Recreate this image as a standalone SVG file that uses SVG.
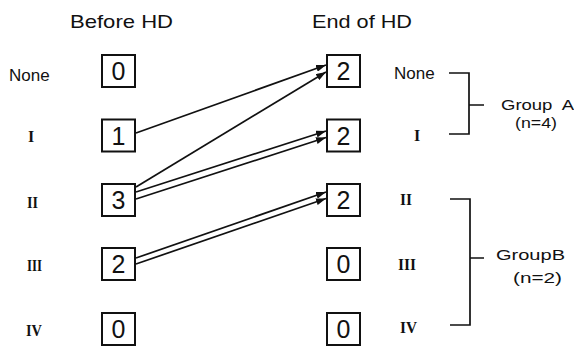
<svg xmlns="http://www.w3.org/2000/svg" width="574" height="346" viewBox="0 0 574 346">
<style>
.t{font-family:"Liberation Sans",Arial,sans-serif;fill:#111}
.title{font-size:19px}
.lab{font-size:17px}
.rom{font-family:"Liberation Serif","Times New Roman",serif;font-weight:bold;font-size:16px;fill:#111}
.dig{font-family:"Liberation Sans",Arial,sans-serif;font-size:25px;fill:#111;text-anchor:middle}
.box{fill:#fff;stroke:#111;stroke-width:2}
.ln{stroke:#111;stroke-width:1.7;fill:none}
.arr{stroke:#111;stroke-width:1.7;fill:none;marker-end:url(#ah)}
.grp{font-size:15px}
</style>
<defs>
<marker id="ah" markerUnits="userSpaceOnUse" markerWidth="10" markerHeight="7" refX="10" refY="3.5" orient="auto">
<path d="M0,0 L10,3.5 L0,7 z" fill="#111"/>
</marker>
</defs>
<rect width="574" height="346" fill="#fff"/>
<text class="t title" x="70" y="28" textLength="103" lengthAdjust="spacingAndGlyphs">Before HD</text>
<text class="t title" x="312" y="28" textLength="100" lengthAdjust="spacingAndGlyphs">End of HD</text>

<g id="left-labels">
<text class="t lab" x="9" y="81">None</text>
<text class="rom" x="28" y="142">I</text>
<text class="rom" x="27" y="208" textLength="11" lengthAdjust="spacingAndGlyphs">II</text>
<text class="rom" x="27" y="271" textLength="15" lengthAdjust="spacingAndGlyphs">III</text>
<text class="rom" x="26" y="336" textLength="16" lengthAdjust="spacingAndGlyphs">IV</text>
</g>

<g id="before-none"><rect class="box" x="102" y="55" width="33" height="32"/><text class="dig" x="118.5" y="80">0</text></g>
<g id="before-I"><rect class="box" x="102" y="119.5" width="33" height="32"/><text class="dig" x="118.5" y="144.5">1</text></g>
<g id="before-II"><rect class="box" x="102" y="184" width="33" height="32"/><text class="dig" x="118.5" y="209">3</text></g>
<g id="before-III"><rect class="box" x="102" y="248" width="33" height="32"/><text class="dig" x="118.5" y="273">2</text></g>
<g id="before-IV"><rect class="box" x="102" y="313" width="33" height="32"/><text class="dig" x="118.5" y="338">0</text></g>

<g id="end-none"><rect class="box" x="327" y="55" width="33" height="32"/><text class="dig" x="343.5" y="80">2</text></g>
<g id="end-I"><rect class="box" x="327" y="119.5" width="33" height="32"/><text class="dig" x="343.5" y="144.5">2</text></g>
<g id="end-II"><rect class="box" x="327" y="184" width="33" height="32"/><text class="dig" x="343.5" y="209">2</text></g>
<g id="end-III"><rect class="box" x="327" y="248" width="33" height="32"/><text class="dig" x="343.5" y="273">0</text></g>
<g id="end-IV"><rect class="box" x="327" y="313" width="33" height="32"/><text class="dig" x="343.5" y="338">0</text></g>

<g id="connectors">
<line class="arr" x1="136" y1="133" x2="326" y2="65"/>
<line class="arr" x1="136" y1="187" x2="326" y2="72"/>
<line class="arr" x1="136" y1="192" x2="326" y2="131"/>
<line class="arr" x1="136" y1="199" x2="326" y2="137.5"/>
<line class="arr" x1="136" y1="258" x2="326" y2="192"/>
<line class="arr" x1="136" y1="264" x2="326" y2="198.5"/>
</g>

<g id="right-labels">
<text class="t lab" x="394" y="79">None</text>
<text class="rom" x="414" y="141">I</text>
<text class="rom" x="400" y="205" textLength="12" lengthAdjust="spacingAndGlyphs">II</text>
<text class="rom" x="398" y="270" textLength="18" lengthAdjust="spacingAndGlyphs">III</text>
<text class="rom" x="400" y="333" textLength="17" lengthAdjust="spacingAndGlyphs">IV</text>
</g>

<g id="group-a">
<path class="ln" d="M449,73 H469 V134 H449 M469,105 H484"/>
<text class="t grp" x="501" y="110" textLength="73" lengthAdjust="spacingAndGlyphs" xml:space="preserve">Group  A</text>
<text class="t grp" x="515" y="128" textLength="42" lengthAdjust="spacingAndGlyphs">(n=4)</text>
</g>
<g id="group-b">
<path class="ln" d="M450,199 H470 V325 H450 M470,258 H484"/>
<text class="t grp" x="496" y="260" textLength="69" lengthAdjust="spacingAndGlyphs">GroupB</text>
<text class="t grp" x="513" y="283" textLength="49" lengthAdjust="spacingAndGlyphs">(n=2)</text>
</g>
</svg>
